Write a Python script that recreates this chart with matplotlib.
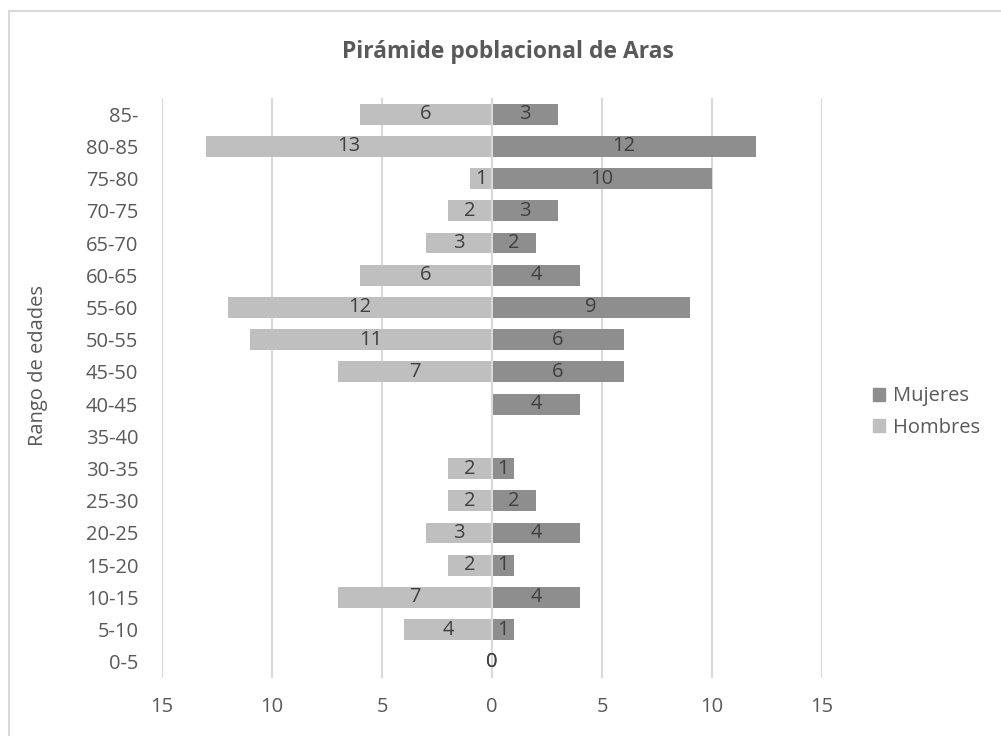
import matplotlib
matplotlib.use("Agg")
import matplotlib.pyplot as plt
from matplotlib.patches import Rectangle, Patch
from matplotlib.ticker import FixedLocator, FuncFormatter

plt.rcParams['font.family'] = ['Open Sans', 'DejaVu Sans']

# Age groups, youngest at the bottom of the pyramid
age_groups = ["0-5", "5-10", "10-15", "15-20", "20-25", "25-30", "30-35", "35-40",
              "40-45", "45-50", "50-55", "55-60", "60-65", "65-70", "70-75",
              "75-80", "80-85", "85-"]
# None = no people recorded in that group (no bar, no label)
hombres = [0, 4, 7, 2, 3, 2, 2, None, None, 7, 11, 12, 6, 3, 2, 1, 13, 6]
mujeres = [0, 1, 4, 1, 4, 2, 1, None, 4, 6, 6, 9, 4, 2, 3, 10, 12, 3]
x_ticks = [-15, -10, -5, 0, 5, 10, 15]

title = "Pirámide poblacional de Aras"
y_title = "Rango de edades"

c_hombres = "#BFBFBF"
c_mujeres = "#8E8E8E"
c_grid = "#D9D9D9"
c_text = "#595959"
c_label = "#404040"
fs = 14.5

W, H = 1001, 736
fig = plt.figure(figsize=(W / 100, H / 100), dpi=100)
ax = fig.add_axes([162 / W, 1 - 678 / H, 660 / W, 580 / H])

ypos = list(range(len(age_groups)))
h_vals = [-(v if v is not None else 0) for v in hombres]
m_vals = [(v if v is not None else 0) for v in mujeres]

bh = 0.65
bars_h = ax.barh(ypos, h_vals, height=bh, color=c_hombres, zorder=2, label="Hombres")
bars_m = ax.barh(ypos, m_vals, height=bh, color=c_mujeres, zorder=2, label="Mujeres")

ax.bar_label(bars_h, labels=["" if v is None else str(v) for v in hombres],
             label_type="center", color=c_label, fontsize=fs, zorder=4)
ax.bar_label(bars_m, labels=["" if v is None else str(v) for v in mujeres],
             label_type="center", color=c_label, fontsize=fs, zorder=4)

ax.set_xlim(-15, 15)
ax.set_ylim(-0.5, len(age_groups) - 0.5)
ax.xaxis.set_major_locator(FixedLocator(x_ticks))
ax.xaxis.set_major_formatter(FuncFormatter(lambda v, p: f"{abs(int(v))}"))
ax.set_yticks(ypos)
ax.set_yticklabels(age_groups)
ax.tick_params(axis="both", length=0, labelsize=fs, labelcolor=c_text)
ax.tick_params(axis="x", pad=13.5)
ax.tick_params(axis="y", pad=17)

for s in ax.spines.values():
    s.set_visible(False)
ax.grid(axis="x", color=c_grid, linewidth=1.5, zorder=1)
ax.set_axisbelow(True)
ax.axvline(0, color=c_grid, linewidth=1.5, zorder=3)

fig.text(508 / W, 1 - 52 / H, title, ha="center", va="center",
         fontsize=16.5, fontweight="bold", color=c_text)
fig.text(38 / W, 1 - 365 / H, y_title, ha="center", va="center",
         rotation=90, fontsize=fs, color=c_text)

handles = [Patch(color=c_mujeres, label="Mujeres"), Patch(color=c_hombres, label="Hombres")]
fig.legend(handles=handles, loc="center left", bbox_to_anchor=(855 / W, 1 - 412 / H),
           frameon=False, fontsize=fs, labelcolor=c_text, handlelength=0.6,
           handleheight=0.6, handletextpad=0.4, labelspacing=0.55)

fig.patches.append(Rectangle((9 / W, -0.1), 1.2, 1 - 11 / H + 0.1, transform=fig.transFigure,
                             fill=False, edgecolor=c_grid, linewidth=1.5))

fig.savefig("out.png", dpi=100, facecolor="white")
